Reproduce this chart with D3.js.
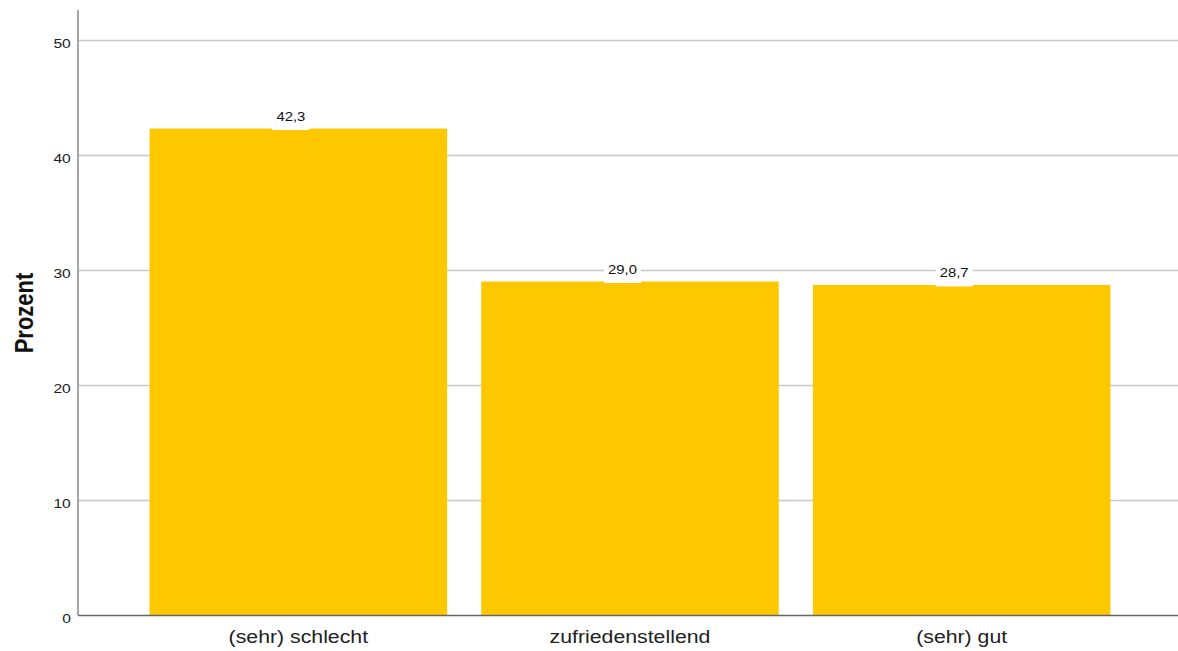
<!DOCTYPE html>
<html>
<head>
<meta charset="utf-8">
<script src="https://cdn.jsdelivr.net/npm/d3@7"></script>
<style>
  html, body { margin: 0; padding: 0; background: #fff; }
  svg { display: block; font-family: "Liberation Sans", Arial, sans-serif; }
</style>
</head>
<body>
<svg id="chart" width="1178" height="651"></svg>
<script>
// Bewertung – Anteile in Prozent
const categories = ["(sehr) schlecht", "zufriedenstellend", "(sehr) gut"];
const values = [42.3, 29.0, 28.7];
const yTicks = [0, 10, 20, 30, 40, 50];
const yLabel = "Prozent";

const svg = d3.select("#chart");
const plotLeft = 78, plotRight = 1178, plotTop = 10, plotBottom = 615;
const font = "Liberation Sans, Arial, sans-serif";

const y = d3.scaleLinear().domain([0, 50]).range([plotBottom, 40]);
const x = d3.scaleBand().domain(categories).range([133, 1127])
  .paddingInner(0.103).paddingOuter(0.05);

// gridlines
svg.append("g").selectAll("line").data(yTicks.filter(d => d > 0)).join("line")
  .attr("x1", plotLeft).attr("x2", plotRight)
  .attr("y1", d => y(d) + 0.5).attr("y2", d => y(d) + 0.5)
  .attr("stroke", "#c8c8c8").attr("stroke-width", 1.5);

// bars
svg.append("g").selectAll("rect").data(values).join("rect")
  .attr("x", (d, i) => x(categories[i]))
  .attr("width", x.bandwidth())
  .attr("y", d => y(d))
  .attr("height", d => plotBottom - y(d))
  .attr("fill", "#fdc800");

// value labels with white backing (sit a little left of the bar centre)
const fmt = v => d3.format(".1f")(v).replace(".", ",");
const lab = svg.append("g").selectAll("g").data(values).join("g")
  .attr("transform", (d, i) => `translate(${x(categories[i]) + x.bandwidth() / 2 - 7.5},${y(d)})`);
lab.append("rect").attr("x", -18.5).attr("y", -20).attr("width", 37).attr("height", 21.5).attr("fill", "#fff");
lab.append("text").attr("y", -7.5).attr("text-anchor", "middle").attr("transform", "scale(1.1,1)")
  .attr("font-size", 13.5).attr("fill", "#111").text(d => fmt(d));

// y axis
const yAxis = d3.axisLeft(y).tickValues(yTicks).tickSize(0).tickPadding(6);
const ya = svg.append("g").attr("transform", `translate(${plotLeft},0)`).call(yAxis);
ya.select(".domain").remove();
ya.selectAll("text").attr("font-size", 13).attr("fill", "#222").attr("font-family", font)
  .attr("y", 3).attr("transform", "scale(1.2,1)");
svg.append("line").attr("x1", plotLeft).attr("x2", plotLeft).attr("y1", plotTop).attr("y2", plotBottom)
  .attr("stroke", "#888").attr("stroke-width", 1.5);

// x axis
const xAxis = d3.axisBottom(x).tickSize(0).tickPadding(15);
const xa = svg.append("g").attr("transform", `translate(0,${plotBottom})`).call(xAxis);
xa.select(".domain").remove();
xa.selectAll("text").attr("font-size", 19).attr("fill", "#222").attr("font-family", font)
  .attr("transform", "scale(1.12,1)");
svg.append("line").attr("x1", plotLeft).attr("x2", plotRight).attr("y1", plotBottom + 0.5).attr("y2", plotBottom + 0.5)
  .attr("stroke", "#666").attr("stroke-width", 1.5);

// y axis title
svg.append("text").attr("transform", `translate(33,${(plotTop + plotBottom) / 2 + 0.5}) scale(1.2,1) rotate(-90)`)
  .attr("text-anchor", "middle").attr("font-size", 22).attr("font-weight", "bold")
  .attr("fill", "#111").text(yLabel);
</script>
</body>
</html>
